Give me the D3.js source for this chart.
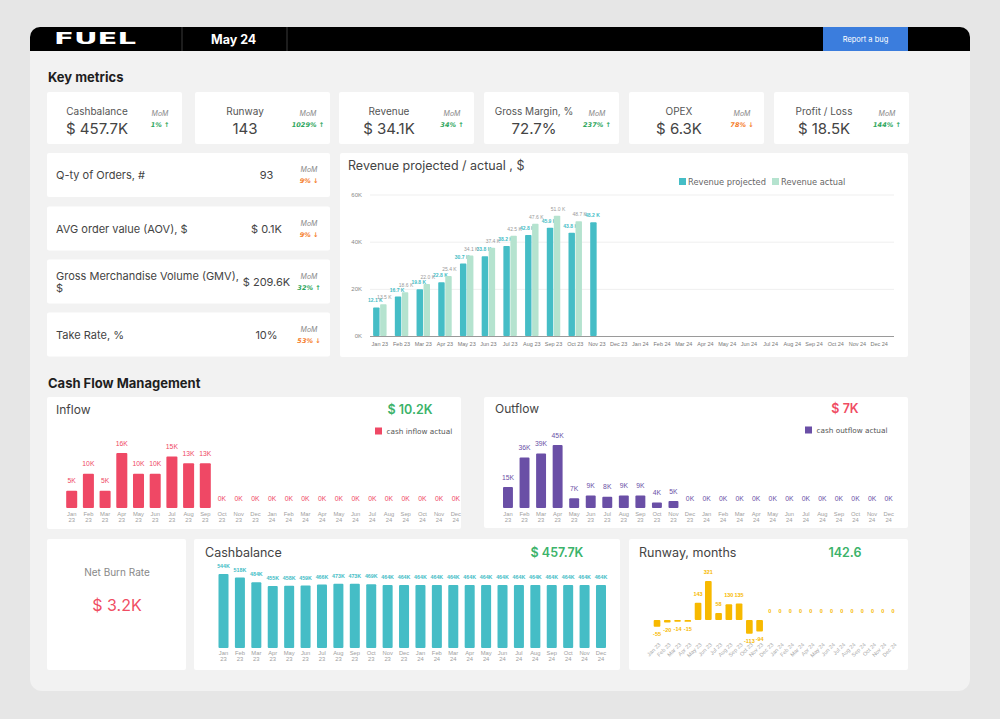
<!DOCTYPE html>
<html>
<head>
<meta charset="utf-8">
<script src="https://cdn.jsdelivr.net/npm/d3@7"></script>
<style>
  body { margin: 0; background: #e6e6e6; }
  svg { display: block; }
</style>
</head>
<body>
<svg id="dash" width="1000" height="719"></svg>
<script>
// ---- data ----
const months = ["Jan 23", "Feb 23", "Mar 23", "Apr 23", "May 23", "Jun 23", "Jul 23", "Aug 23",
    "Sep 23", "Oct 23", "Nov 23", "Dec 23", "Jan 24", "Feb 24", "Mar 24", "Apr 24", "May 24",
    "Jun 24", "Jul 24", "Aug 24", "Sep 24", "Oct 24", "Nov 24", "Dec 24"];

const kpiLabels = ["Cashbalance", "Runway", "Revenue", "Gross Margin, %", "OPEX", "Profit / Loss"];
const kpiValues = ["$ 457.7K", "143", "$ 34.1K", "72.7%", "$ 6.3K", "$ 18.5K"];
const kpiMoM = ["1% ↑", "1029% ↑", "34% ↑", "237% ↑", "78% ↓", "144% ↑"];
const kpiUp = [true, true, true, true, false, true];

const listLabels = [["Q-ty of Orders, #"], ["AVG order value (AOV), $"], ["Gross Merchandise Volume (GMV),", "$"], ["Take Rate, %"]];
const listValues = ["93", "$ 0.1K", "$ 209.6K", "10%"];
const listMoM = ["9% ↓", "9% ↓", "32% ↑", "53% ↓"];
const listUp = [false, false, true, false];

const revSeries = ["Revenue projected", "Revenue actual"];
const revProjected = [12.1, 16.7, 19.8, 22.8, 30.7, 33.8, 38.2, 42.8, 45.9, 43.8, 48.2];
const revActual = [13.5, 18.6, 22.0, 25.4, 34.1, 37.4, 42.5, 47.6, 51.0, 48.7];
const revTicks = [0, 20, 40, 60];

const inflow = [5, 10, 5, 16, 10, 10, 15, 13, 13, 0, 0, 0, 0, 0, 0, 0, 0, 0, 0, 0, 0, 0, 0, 0];
const outflow = [15, 36, 39, 45, 7, 9, 8, 9, 9, 4, 5, 0, 0, 0, 0, 0, 0, 0, 0, 0, 0, 0, 0, 0];
const cashbalance = [544, 518, 484, 455, 458, 459, 466, 473, 473, 469, 464, 464, 464, 464, 464,
    464, 464, 464, 464, 464, 464, 464, 464, 464];
const runway = [-55, -20, -14, -15, 143, 321, 58, 130, 135, -113, -94, 0, 0, 0, 0, 0, 0, 0, 0, 0, 0, 0, 0, 0];

// ---- style ----
const font = "Inter, 'Noto Sans', sans-serif";
const small = "'Liberation Sans', Arial, sans-serif";
const teal = "#45bdc6", mint = "#b5e3cf", red = "#ef4865", purple = "#6a4fa6", amber = "#f7b900";
const green = "#3bb36a", orange = "#f57c2a";

const svg = d3.select("#dash");

function card(x, y, w, h) {
    return svg.append("rect").attr("x", x).attr("y", y).attr("width", w).attr("height", h)
        .attr("rx", 2).attr("fill", "#fff");
}
function text(x, y, t, size, color, opts) {
    opts = opts || {};
    return svg.append("text").attr("x", x).attr("y", y).text(t)
        .attr("font-family", opts.family || font).attr("font-size", size).attr("fill", color)
        .attr("text-anchor", opts.anchor || "start")
        .attr("font-weight", opts.weight || "normal")
        .attr("font-style", opts.style || "normal");
}

// panel + header
svg.append("rect").attr("x", 30).attr("y", 27).attr("width", 940).attr("height", 664).attr("rx", 12).attr("fill", "#f2f2f2");
svg.append("rect").attr("x", 30).attr("y", 27).attr("width", 940).attr("height", 24).attr("rx", 10).attr("fill", "#000");
svg.append("rect").attr("x", 30).attr("y", 38).attr("width", 940).attr("height", 13).attr("fill", "#000");
[182, 287].forEach(x => svg.append("line").attr("x1", x).attr("x2", x).attr("y1", 27).attr("y2", 51).attr("stroke", "#3a3a3a"));
text(54, 44, "FUEL", 16, "#fff", { family: "'DejaVu Sans'", weight: 900 })
    .attr("textLength", 82).attr("lengthAdjust", "spacingAndGlyphs");
text(211, 44, "May 24", 12.5, "#fff", { weight: 700 });
svg.append("rect").attr("x", 823).attr("y", 27).attr("width", 85).attr("height", 24).attr("fill", "#3b7ddd");
text(865.5, 41.5, "Report a bug", 7.5, "#fff", { anchor: "middle" });

text(48, 82, "Key metrics", 13, "#1e1e1e", { weight: 700 });
text(48, 388, "Cash Flow Management", 13, "#1e1e1e", { weight: 700 });

// KPI row
const kpiBoxX = [47, 195, 339, 484, 629, 774];
kpiLabels.forEach((lab, i) => {
    const x = kpiBoxX[i];
    card(x, 92, 135, 52);
    text(x + 50, 115, lab, 10, "#555", { anchor: "middle" });
    text(x + 50, 133.5, kpiValues[i], 15, "#444", { anchor: "middle" });
    text(x + 113, 115.5, "MoM", 7, "#888", { anchor: "middle", style: "italic" });
    text(x + 113, 126.5, kpiMoM[i], 6.5, kpiUp[i] ? "#2ea65d" : orange, { anchor: "middle", style: "italic", weight: 700, family: "'DejaVu Sans'" });
});

// list cards
const listY = [153, 206.5, 259.5, 312.5];
listLabels.forEach((lines, i) => {
    const y = listY[i];
    card(47, y, 283, 44);
    const cy = y + 22;
    lines.forEach((l, j) => text(56, cy + 4 - (lines.length - 1) * 6 + j * 12, l, 11, "#444"));
    text(266.5, cy + 4, listValues[i], 11, "#444", { anchor: "middle" });
    text(309, cy - 3, "MoM", 7, "#888", { anchor: "middle", style: "italic" });
    text(309, cy + 8, listMoM[i], 6.5, listUp[i] ? "#2ea65d" : orange, { anchor: "middle", style: "italic", weight: 700, family: "'DejaVu Sans'" });
});

// revenue chart
card(340, 153, 568, 204);
text(348, 170, "Revenue projected / actual , $", 12.5, "#444");
const revX = d3.scaleBand().domain(months).range([369, 890]).paddingInner(0.38).paddingOuter(0.19);
const revSub = d3.scaleBand().domain(revSeries).range([0, revX.bandwidth()]).paddingInner(0.08);
const revY = d3.scaleLinear().domain([0, 60]).range([336, 194.5]);
const revAxis = svg.append("g").attr("transform", "translate(370,0)")
    .call(d3.axisLeft(revY).tickValues(revTicks).tickFormat(d => d + "K").tickSize(-524).tickPadding(8));
revAxis.select(".domain").remove();
revAxis.selectAll("line").attr("stroke", (d) => d === 0 ? "#9a9a9a" : "#efefef");
revAxis.selectAll("text").attr("font-family", small).attr("font-size", 6).attr("fill", "#888");
const revXAxis = svg.append("g").attr("transform", "translate(0,336)")
    .call(d3.axisBottom(revX).tickSize(0).tickPadding(6));
revXAxis.select(".domain").remove();
revXAxis.selectAll("text").attr("font-family", small).attr("font-size", 5.5).attr("fill", "#777");

[[revProjected, teal, teal, 700, -1], [revActual, mint, "#9a9a9a", 400, 1]].forEach(([vals, col, lcol, w, dx], s) => {
    const g = svg.append("g");
    g.selectAll("rect").data(vals).join("rect")
        .attr("x", (d, i) => revX(months[i]) + revSub(revSeries[s]))
        .attr("width", revSub.bandwidth())
        .attr("y", d => revY(d)).attr("height", d => revY(0) - revY(d))
        .attr("fill", col).attr("rx", 0.8);
    g.selectAll("text").data(vals).join("text")
        .attr("x", (d, i) => revX(months[i]) + revSub(revSeries[s]) + revSub.bandwidth() / 2 + dx)
        .attr("y", d => revY(d) - 5)
        .attr("text-anchor", "middle").attr("font-family", small).attr("font-size", 5)
        .attr("font-weight", w).attr("fill", lcol)
        .text(d => d.toFixed(1) + " K");
});
[[679, teal], [772, mint]].forEach(([x, col], i) => {
    svg.append("rect").attr("x", x).attr("y", 178).attr("width", 7).attr("height", 7).attr("fill", col);
    text(x + 9, 184.5, revSeries[i], 8.3, "#666", { family: "'DejaVu Sans'" });
});

// generic monthly bar chart
function barChart(o) {
    const x = d3.scaleBand().domain(months).range(o.xRange).paddingInner(o.pad).paddingOuter(o.pad / 2);
    const y = d3.scaleLinear().domain(o.yDomain).range(o.yRange);
    const g = svg.append("g");
    g.selectAll("rect").data(o.values).join("rect")
        .attr("x", (d, i) => x(months[i])).attr("width", x.bandwidth())
        .attr("y", d => y(Math.max(0, d))).attr("height", d => Math.abs(y(d) - y(0)))
        .attr("fill", o.color).attr("rx", 1);
    g.selectAll("text.lab").data(o.values).join("text").attr("class", "lab")
        .attr("x", (d, i) => x(months[i]) + x.bandwidth() / 2)
        .attr("y", d => d < 0 ? y(d) + o.below : y(Math.max(0, d)) - o.above)
        .attr("text-anchor", "middle").attr("font-family", small).attr("font-size", o.labelSize)
        .attr("font-weight", o.labelWeight || 400).attr("fill", o.labelColor || o.color)
        .text(o.fmt);
    if (o.rotate) {
        g.selectAll("text.tick").data(months).join("text").attr("class", "tick")
            .attr("transform", d => `translate(${x(d) + x.bandwidth() / 2 + 4},${o.tickY}) rotate(-45)`)
            .attr("text-anchor", "end").attr("font-family", small).attr("font-size", 5.5).attr("fill", "#aaa")
            .text(d => d);
    } else {
        months.forEach(m => {
            const parts = m.split(" ");
            parts.forEach((p, j) => g.append("text")
                .attr("x", x(m) + x.bandwidth() / 2).attr("y", o.tickY + j * 6)
                .attr("text-anchor", "middle").attr("font-family", small).attr("font-size", 5.8)
                .attr("fill", "#a0a0a0").text(p));
        });
    }
}

// inflow
card(47, 397, 414, 132);
text(56, 413.5, "Inflow", 12, "#444");
text(410, 413.5, "$ 10.2K", 12.5, green, { anchor: "middle", weight: 600 });
svg.append("rect").attr("x", 375).attr("y", 427.5).attr("width", 7).attr("height", 7).attr("fill", red);
text(386.5, 434, "cash inflow actual", 7.3, "#555", { family: "'DejaVu Sans'" });
barChart({ values: inflow, xRange: [63.35, 464.15], pad: 0.34, yDomain: [0, 16], yRange: [508, 453],
    color: red, labelSize: 6.8, above: 7.5, below: 8, fmt: d => d + "K", tickY: 516 });

// outflow
card(484, 397, 424, 131);
text(495, 413, "Outflow", 12, "#444");
text(845, 413, "$ 7K", 12.5, "#f04d63", { anchor: "middle", weight: 600 });
svg.append("rect").attr("x", 805).attr("y", 426.5).attr("width", 7).attr("height", 7).attr("fill", purple);
text(816.5, 433, "cash outflow actual", 7.3, "#555", { family: "'DejaVu Sans'" });
barChart({ values: outflow, xRange: [499.7, 896.9], pad: 0.4, yDomain: [0, 45], yRange: [508, 445],
    color: purple, labelSize: 6.8, above: 7.5, below: 8, fmt: d => d + "K", tickY: 516 });

// net burn rate
card(47, 539, 139, 131);
text(117, 575.5, "Net Burn Rate", 10, "#888", { anchor: "middle" });
text(117, 610.5, "$ 3.2K", 16, "#f04d63", { anchor: "middle" });

// cashbalance
card(194, 539, 426, 131);
text(205, 557, "Cashbalance", 12.5, "#444");
text(557, 557, "$ 457.7K", 12.5, green, { anchor: "middle", weight: 600 });
barChart({ values: cashbalance, xRange: [215.3, 609.2], pad: 0.39, yDomain: [0, 544], yRange: [648, 574],
    color: teal, labelSize: 5.3, labelWeight: 700, above: 6, below: 8, fmt: d => d + "K", tickY: 655 });

// runway
card(629, 539, 279, 131);
text(639, 557, "Runway, months", 12.5, "#444");
text(845, 557, "142.6", 12.5, green, { anchor: "middle", weight: 600 });
barChart({ values: runway, xRange: [651.9, 898.1], pad: 0.35, yDomain: [0, 321], yRange: [620, 581],
    color: amber, labelSize: 5.5, labelWeight: 700, above: 7, below: 9.5, fmt: d => d, tickY: 645, rotate: true });
</script>
</body>
</html>
